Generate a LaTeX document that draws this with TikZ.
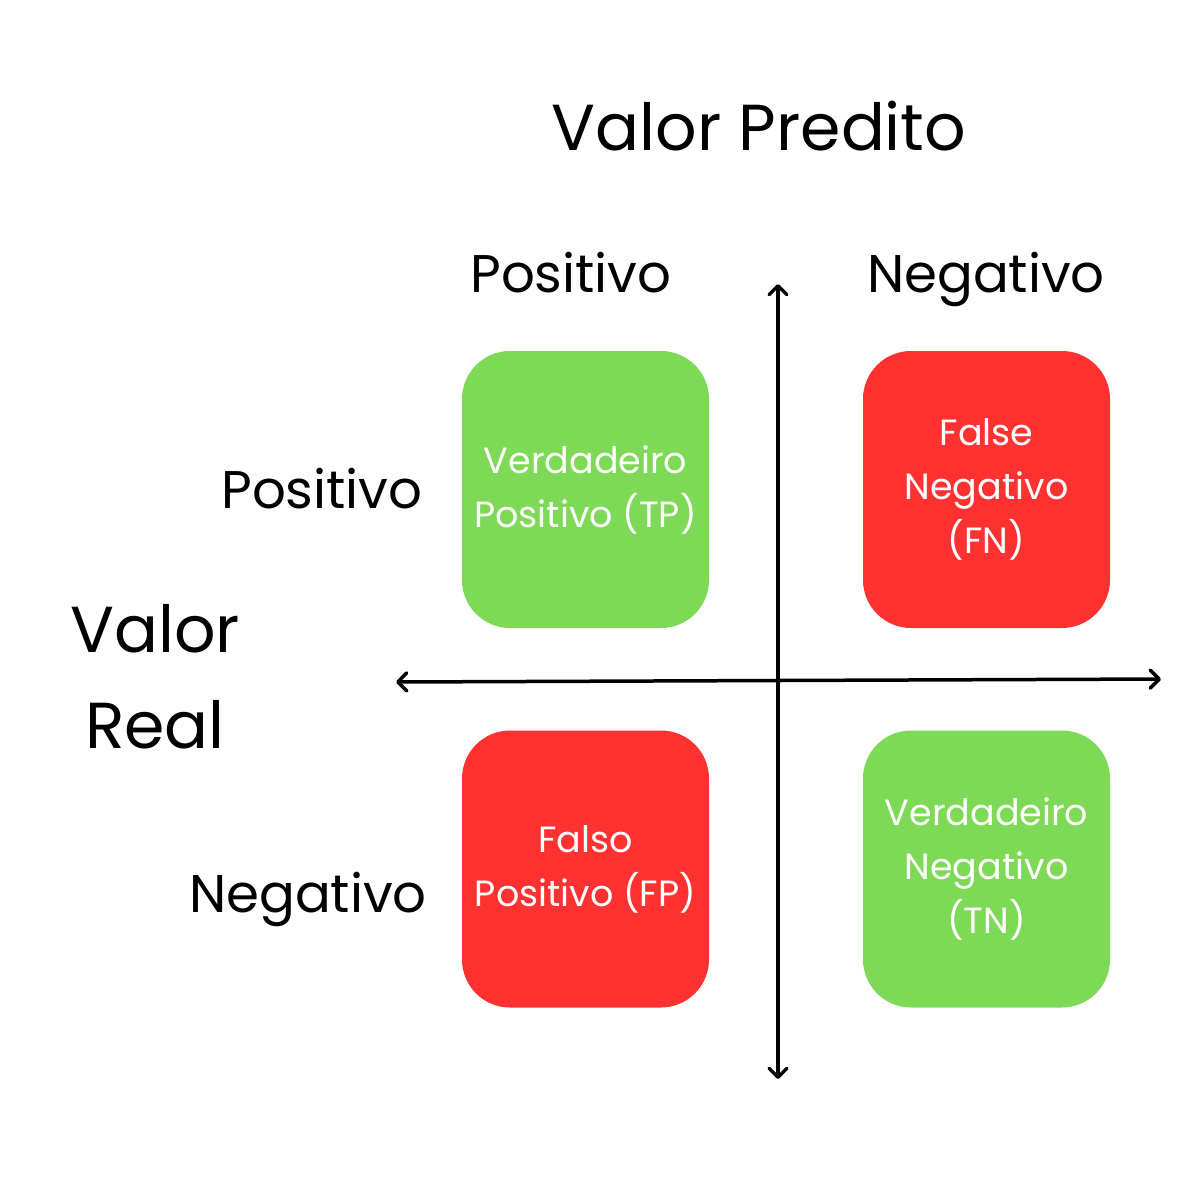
\documentclass[tikz,border=0pt]{standalone}
\usepackage{fontspec}
\setmainfont{Poppins}
\usetikzlibrary{arrows.meta}
\definecolor{cgreen}{HTML}{7ED957}
\definecolor{cred}{HTML}{FF3131}
\tikzset{
  title/.style={font=\fontsize{65}{80}\selectfont, anchor=base, inner sep=0pt},
  label/.style={font=\fontsize{53}{62}\selectfont, anchor=base, inner sep=0pt},
  cell/.style={rounded corners=48pt, minimum width=247pt, minimum height=277pt, inner sep=0pt,
    text=white, align=center, font=\fontsize{36.5}{54}\selectfont},
  axis/.style={line width=3.5pt, {Straight Barb[length=9pt,width=18pt,line cap=round,line join=round]}-{Straight Barb[length=9pt,width=18pt,line cap=round,line join=round]}}
}
\begin{document}
\begin{tikzpicture}[x=1pt,y=-1pt]
\useasboundingbox (0,0) rectangle (1200,1200);
\node[title] (pred) at (759,150) {Valor Predito};
\node[label] (cpos) at (571,292) {Positivo};
\node[label] (cneg) at (986,292) {Negativo};
\node[label] (rpos) at (322,508) {Positivo};
\node[label] (rneg) at (308,912) {Negativo};
\node[title] (real1) at (155,652) {Valor};
\node[title] (real2) at (155,748) {Real};
\node[cell, fill=cgreen] (tp) at (585.5,489.5) {Verdadeiro\\Positivo (TP)};
\node[cell, fill=cred] (fn) at (986.5,489.5) {False\\Negativo\\(FN)};
\node[cell, fill=cred] (fp) at (585.5,869) {Falso\\Positivo (FP)};
\node[cell, fill=cgreen] (tn) at (986.5,869) {Verdadeiro\\Negativo\\(TN)};
\coordinate (vt) at (778,284);
\coordinate (vb) at (778,1079);
\coordinate (hl) at (396,682);
\coordinate (hr) at (1161,679);
\draw[axis] (vt) -- (vb);
\draw[axis] (hl) -- (hr);
\end{tikzpicture}
\end{document}
